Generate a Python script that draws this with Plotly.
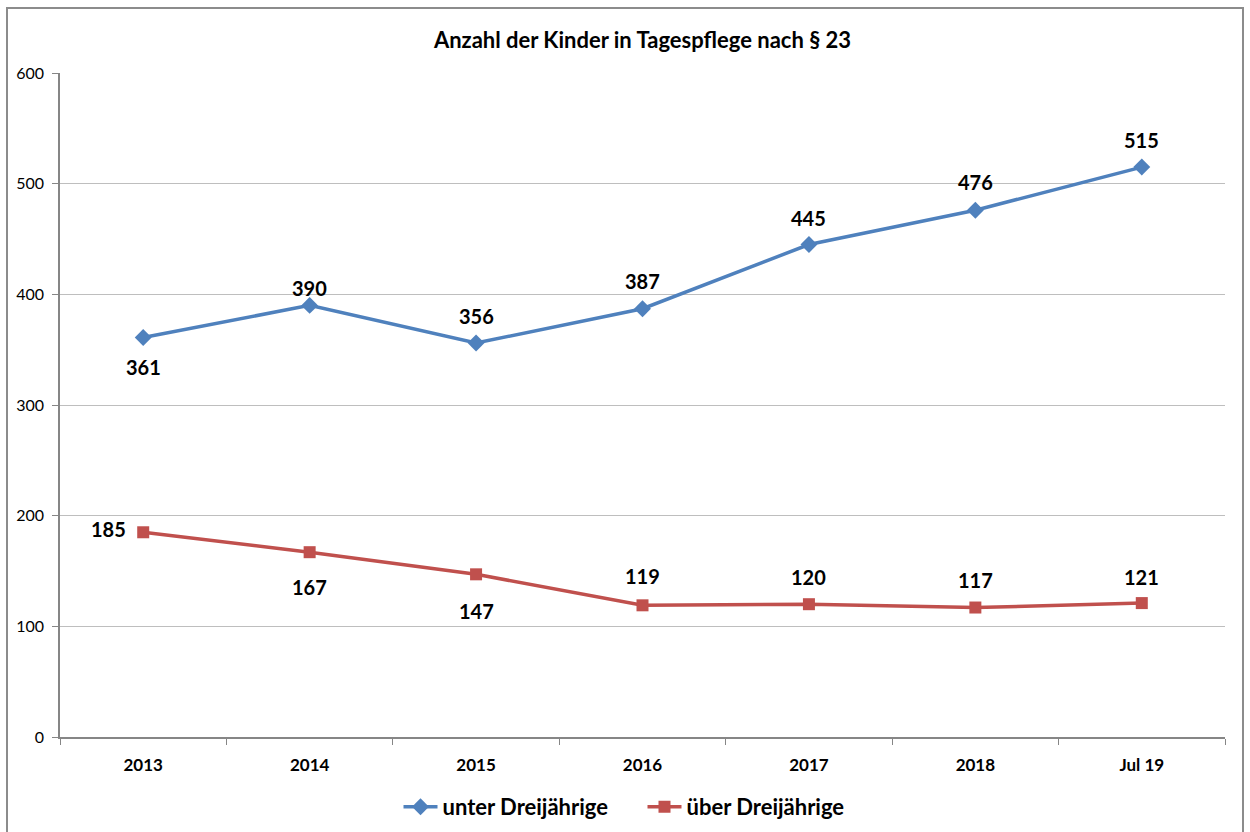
import plotly.graph_objects as go

categories = ["2013", "2014", "2015", "2016", "2017", "2018", "Jul 19"]
unter = [361, 390, 356, 387, 445, 476, 515]
ueber = [185, 167, 147, 119, 120, 117, 121]

# label placement (pixel offsets from the marker): style only
unter_shift = [(0, -30), (0, 17), (0, 27), (0, 28), (0, 27), (0, 28), (0, 27)]
ueber_shift = [(-35, 3), (0, -35), (0, -37), (0, 29), (0, 27), (0, 28), (0, 26)]

FONT = "Lato, Open Sans, sans-serif"
W, H = 1250, 832
ml, mr, mt, mb = 60, 25, 73, 95
pw, ph = W - ml - mr, H - mt - mb

fig = go.Figure()
fig.add_trace(go.Scatter(
    x=categories, y=unter, name="unter Dreijährige", mode="lines+markers",
    line=dict(color="#4F81BD", width=3.5),
    marker=dict(symbol="diamond", size=13, color="#4F81BD"),
    cliponaxis=False,
))
fig.add_trace(go.Scatter(
    x=categories, y=ueber, name="über Dreijährige", mode="lines+markers",
    line=dict(color="#C0504D", width=3.5),
    marker=dict(symbol="square", size=12, color="#C0504D"),
    cliponaxis=False,
))

for vals, shifts in ((unter, unter_shift), (ueber, ueber_shift)):
    for i, (v, (dx, dy)) in enumerate(zip(vals, shifts)):
        # category axis: numeric x = category index
        fig.add_annotation(x=i, y=v, xref="x", yref="y", text=f"<b>{v}</b>",
                           showarrow=False, xshift=dx, yshift=dy,
                           xanchor="center", yanchor="middle",
                           font=dict(family=FONT, size=20, color="black"))

def px_x(p):
    return (p - ml) / pw

def px_y(p):
    return (H - mb - p) / ph

fig.add_shape(type="rect", xref="paper", yref="paper",
              x0=px_x(7), x1=px_x(1243), y0=px_y(840), y1=px_y(8),
              line=dict(color="#8C8C8C", width=2), fillcolor="rgba(0,0,0,0)", layer="below")

fig.update_layout(
    width=W, height=H,
    margin=dict(l=ml, r=mr, t=mt, b=mb, autoexpand=False),
    paper_bgcolor="white", plot_bgcolor="white",
    font=dict(family=FONT, color="black"),
    title=dict(text="<b>Anzahl der Kinder in Tagespflege nach § 23</b>",
               x=0.5, xref="paper", xanchor="center", y=1 - 40 / H, yanchor="middle",
               font=dict(family=FONT, size=22, color="black")),
    showlegend=True,
    legend=dict(orientation="h", x=0.5, xanchor="center", xref="paper",
                yref="container", y=1 - 807 / H, yanchor="middle",
                font=dict(family=FONT, size=22, color="black", weight="bold"),
                itemwidth=34, entrywidth=195, entrywidthmode="pixels",
                traceorder="normal"),
    xaxis=dict(type="category", range=[-0.5, 6.5], showgrid=False,
               showline=True, linecolor="#868686", linewidth=1.5,
               ticks="outside", tickson="boundaries", ticklen=6, tickcolor="#868686",
               ticklabelstandoff=12,
               tickfont=dict(family=FONT, size=17, color="black", weight="bold"),
               fixedrange=True),
    yaxis=dict(range=[0, 600], dtick=100, showgrid=True, gridcolor="#BEBEBE", gridwidth=1,
               showline=True, linecolor="#868686", linewidth=1.5,
               ticks="outside", ticklen=6, tickcolor="#868686", zeroline=False,
               ticklabelstandoff=5,
               tickfont=dict(family=FONT, size=16, color="black"),
               fixedrange=True),
)

fig.write_html("out.html", config={"displayModeBar": False},
               post_script="document.body.style.margin='0';document.body.style.overflow='hidden';")
